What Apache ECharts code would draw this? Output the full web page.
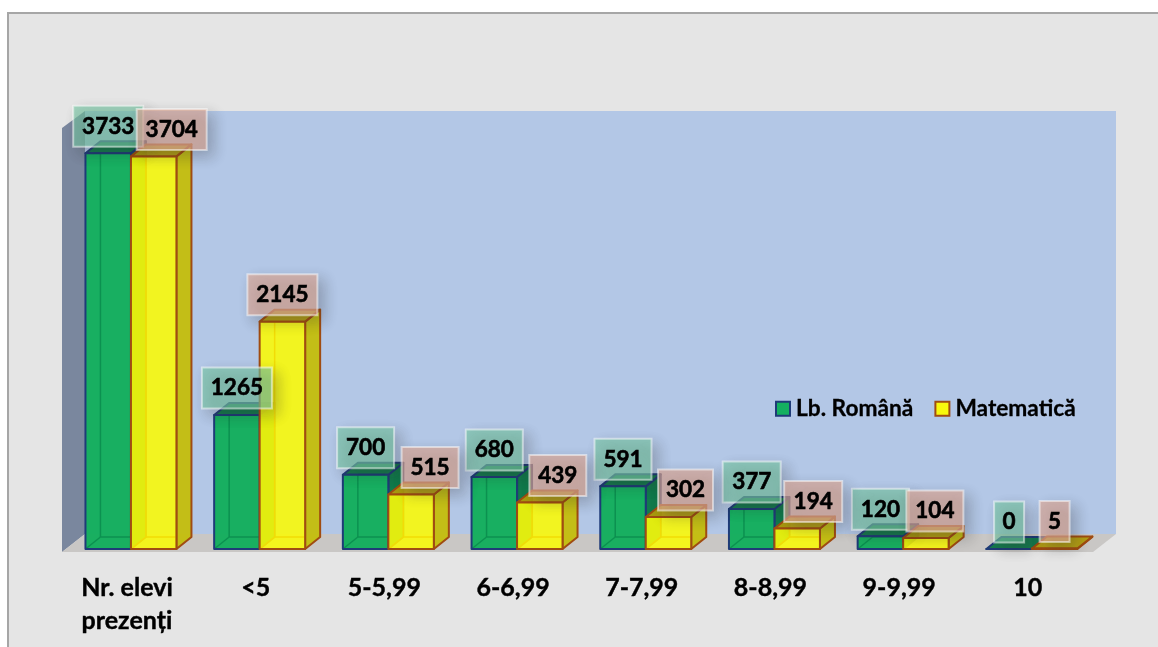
<!DOCTYPE html>
<html><head><meta charset="utf-8">
<style>html,body{margin:0;padding:0;background:#fff;overflow:hidden}#c{width:1158px;height:647px}</style>
<script src="https://cdn.jsdelivr.net/npm/echarts@6/dist/echarts.min.js"></script>
</head><body><div id="c"></div>
<script>
const categories = ['Nr. elevi\nprezenți','<5','5-5,99','6-6,99','7-7,99','8-8,99','9-9,99','10'];
const romana = [3733,1265,700,680,591,377,120,0];
const matematica = [3704,2145,515,439,302,194,104,5];
const seriesNames = ['Lb. Română','Matematică'];
// label nudges: horizontal shift from bar centre, and label box width
const romanaLabelDx = [0,0,0,0,0,0,0,0];
const matematicaLabelDx = [18,0,19,18,17,16,9,0];
const romanaLabelW = [70,70,57,57,57,58,57,30];
const matematicaLabelW = [70,70,57,57,55,58,57,30];

const FONT = 'Lato, Carlito, sans-serif';
const DX = 15, DY = -12, BAND = 0.3535;
const theme = [
 {front:'rgba(18,174,92,0.96)', side:'#127a4c', top:'#157a4e', inner:'#0c9150', edge:'#1f3b78',
  box:'rgba(120,200,165,0.62)', dxs:romanaLabelDx, ws:romanaLabelW},
 {front:'rgba(248,248,10,0.9)', side:'rgba(196,190,12,0.95)', top:'rgba(178,156,12,0.95)', inner:'#f2dc06', edge:'#a04c12',
  box:'rgba(225,170,150,0.66)', dxs:matematicaLabelDx, ws:matematicaLabelW}
];
function barRender(si){
  const t = theme[si];
  return function(params, api){
    const i = api.value(0), v = api.value(1);
    const band = api.size([1,0])[0], w = band*BAND;
    const c = api.coord([i, v]), b = api.coord([i, 0]);
    const xl = si===0 ? c[0]-w : c[0], xr = xl+w, yt = c[1], yb = b[1];
    const st = {stroke:t.edge, lineWidth:2, lineJoin:'round'};
    const poly = (pts,fill,s)=>({type:'polygon',shape:{points:pts},style:Object.assign({fill},s||st)});
    const inner = {stroke:t.inner, lineWidth:1.5};
    const line = (x1,y1,x2,y2)=>({type:'line',shape:{x1,y1,x2,y2},style:inner});
    const frontPts = [[xl,yt],[xr,yt],[xr,yb],[xl,yb]];
    const children = [
      poly([[xr,yt],[xr+DX,yt+DY],[xr+DX,yb+DY],[xr,yb]],t.side),
      poly([[xl,yt],[xl+DX,yt+DY],[xr+DX,yt+DY],[xr,yt]],t.top),
      poly(frontPts,t.front,{stroke:null})
    ];
    if (yb-yt >= -DY) children.push(
      line(xl+DX,yb+DY,xl+DX,yt),
      line(xl+DX,yb+DY,xr,yb+DY),
      line(xl,yb,xl+DX,yb+DY)
    );
    children.push(poly(frontPts,'transparent'));
    return {type:'group',children};
  };
}
function labelRender(si){
  const t = theme[si];
  return function(params, api){
    const i = api.value(0), v = api.value(1);
    const band = api.size([1,0])[0], w = band*BAND;
    const c = api.coord([i, v]);
    const cx = (si===0 ? c[0]-w/2 : c[0]+w/2) + t.dxs[i];
    const cy = c[1]-27, bw = t.ws[i], bh = 41;
    return {type:'group',children:[
      {type:'rect',shape:{x:cx-bw/2,y:cy-bh/2,width:bw,height:bh},
       style:{fill:t.box,stroke:'rgba(255,255,255,0.5)',lineWidth:2,
              shadowBlur:14,shadowOffsetX:6,shadowOffsetY:6,shadowColor:'rgba(40,40,40,0.4)'}},
      {type:'text',x:cx,y:cy,style:{text:String(v),fill:'#000',stroke:'#000',lineWidth:0.6,font:'bold 22.5px '+FONT,align:'center',verticalAlign:'middle'}}
    ]};
  };
}
const rows = a => a.map((v,i)=>[i,v]);
const option = {
  animation:false,
  backgroundColor:'#fff',
  textStyle:{fontFamily:FONT},
  grid:{left:66.6,top:125,width:1029.6,height:424,containLabel:false},
  xAxis:{type:'category',data:categories,axisLine:{show:false},axisTick:{show:false},splitLine:{show:false},
    axisLabel:{interval:0,color:'#000',fontFamily:FONT,fontWeight:'bold',fontSize:25,lineHeight:33,margin:22,padding:[0,8,0,0],verticalAlign:'top',textBorderColor:'#000',textBorderWidth:0.4}},
  yAxis:{type:'value',min:0,max:4000,interval:1000,show:false,splitLine:{show:false}},
  legend:{left:775,top:397,padding:0,itemWidth:14,itemHeight:14,itemGap:21,
    icon:'rect',
    textStyle:{fontFamily:FONT,fontWeight:'bold',fontSize:22.7,color:'#000',textBorderColor:'#000',textBorderWidth:0.3,padding:[0,0,0,1]},
    data:[{name:seriesNames[0],itemStyle:{color:'#14b060',borderColor:'#1f3b78',borderWidth:2}},
          {name:seriesNames[1],itemStyle:{color:'#f8f80e',borderColor:'#a04c12',borderWidth:2}}]},
  graphic:[
    {type:'polygon',silent:true,z:-10,shape:{points:[[8,13],[1170,13],[1170,660],[8,660]]},style:{fill:'#e5e5e5',stroke:'#a6a6a6',lineWidth:2}},
    {type:'rect',silent:true,z:-9,shape:{x:85,y:111,width:1031,height:423},style:{fill:'#b3c7e6'}},
    {type:'polygon',silent:true,z:-8,shape:{points:[[62,128],[85,111],[85,534],[62,552]]},style:{fill:'#7a879e'}},
    {type:'polygon',silent:true,z:-8,shape:{points:[[62,552],[85,534],[1116,534],[1093,552]]},style:{fill:'#c9c7c5'}}
  ],
  series:[
    {type:'custom',name:seriesNames[0],coordinateSystem:'cartesian2d',z:3,renderItem:barRender(0),encode:{x:0,y:1},data:rows(romana),clip:false},
    {type:'custom',name:seriesNames[1],coordinateSystem:'cartesian2d',z:3,renderItem:barRender(1),encode:{x:0,y:1},data:rows(matematica),clip:false},
    {type:'custom',name:'labels-a',coordinateSystem:'cartesian2d',z:5,renderItem:labelRender(0),encode:{x:0,y:1},data:rows(romana),clip:false},
    {type:'custom',name:'labels-b',coordinateSystem:'cartesian2d',z:5,renderItem:labelRender(1),encode:{x:0,y:1},data:rows(matematica),clip:false}
  ]
};
const chart = echarts.init(document.getElementById('c'),null,{renderer:'canvas'});
chart.setOption(option);
</script></body></html>
